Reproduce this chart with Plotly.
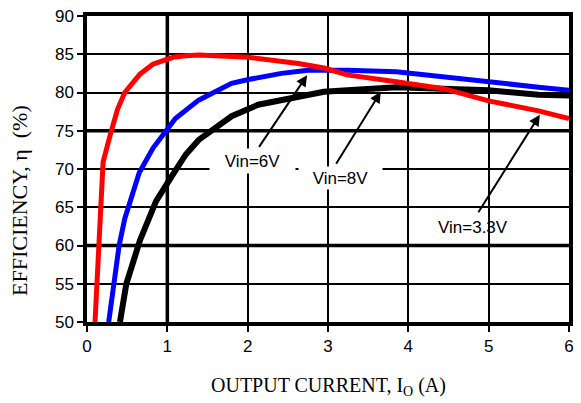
import plotly.graph_objects as go

# ---- data ----
x_33 = [0.10, 0.14, 0.18, 0.20, 0.29, 0.38, 0.47, 0.66, 0.82, 1.07, 1.23, 1.39, 2.01, 2.63, 2.95, 3.24, 3.85, 4.44, 5.00, 5.62, 6.00]
y_33 = [50.0, 58.0, 65.0, 70.9, 74.5, 77.8, 80.0, 82.4, 83.7, 84.6, 84.8, 84.9, 84.6, 83.8, 83.2, 82.3, 81.4, 80.5, 78.9, 77.6, 76.6]

x_6 = [0.27, 0.33, 0.40, 0.47, 0.55, 0.65, 0.82, 1.10, 1.39, 1.80, 2.01, 2.42, 2.75, 3.24, 3.85, 4.43, 5.00, 5.62, 6.00]
y_6 = [50.0, 55.1, 60.0, 63.5, 66.3, 69.5, 72.7, 76.6, 79.0, 81.2, 81.7, 82.5, 82.9, 82.9, 82.7, 82.0, 81.4, 80.7, 80.3]

x_8 = [0.41, 0.49, 0.66, 0.86, 1.07, 1.23, 1.39, 1.80, 2.13, 2.50, 2.75, 2.95, 3.24, 3.85, 4.43, 5.00, 5.62, 6.00]
y_8 = [50.0, 55.0, 60.7, 65.8, 69.3, 71.9, 73.8, 76.9, 78.4, 79.2, 79.7, 80.1, 80.3, 80.7, 80.5, 80.3, 79.7, 79.6]

x_ticks = [0, 1, 2, 3, 4, 5, 6]
y_ticks = [50, 55, 60, 65, 70, 75, 80, 85, 90]
thick_x = [1]
thick_y = [60, 75]

labels = ["Vin=3.3V", "Vin=6V", "Vin=8V"]

SANS = "Liberation Sans, Arial, sans-serif"
SERIF = "Liberation Serif, Times New Roman, serif"

fig = go.Figure()
fig.add_trace(go.Scatter(x=x_8, y=y_8, mode="lines", line=dict(color="black", width=6), name=labels[2]))
fig.add_trace(go.Scatter(x=x_6, y=y_6, mode="lines", line=dict(color="blue", width=5), name=labels[1]))
fig.add_trace(go.Scatter(x=x_33, y=y_33, mode="lines", line=dict(color="red", width=5), name=labels[0]))

for xv in thick_x:
    fig.add_shape(type="line", xref="x", yref="paper", x0=xv, x1=xv, y0=0, y1=1,
                  line=dict(color="black", width=3.5), layer="below")
for yv in thick_y:
    fig.add_shape(type="line", xref="paper", yref="y", x0=0, x1=1, y0=yv, y1=yv,
                  line=dict(color="black", width=3.5), layer="below")

# arrows
arrows = [
    (5.637, 77.1, 4.86, 64.16),   # 3.3V -> red
    (2.74, 82.25, 2.13, 72.7),    # 6V -> blue
    (3.657, 80.09, 3.09, 70.5),   # 8V -> black
]
for hx, hy, tx, ty in arrows:
    fig.add_annotation(x=hx, y=hy, ax=tx, ay=ty, xref="x", yref="y", axref="x", ayref="y",
                       text="", showarrow=True, arrowhead=2, arrowsize=1.1, arrowwidth=2,
                       arrowcolor="black")

# labels
fig.add_annotation(x=4.80, y=62.38, xref="x", yref="y", text=labels[0], showarrow=False,
                   font=dict(family=SANS, size=17, color="black"))
fig.add_annotation(x=2.064, y=71.09, xref="x", yref="y", text=labels[1], showarrow=False,
                   font=dict(family=SANS, size=17, color="black"), bgcolor="white",
                   width=85, height=24, borderpad=0)
fig.add_annotation(x=3.16, y=68.95, xref="x", yref="y", text=labels[2], showarrow=False,
                   font=dict(family=SANS, size=17, color="black"), bgcolor="white",
                   width=83, height=22, borderpad=0, yshift=-1)

# axis titles
fig.add_annotation(x=0.5, y=0, xref="paper", yref="paper", yanchor="middle", yshift=-64,
                   text="OUTPUT CURRENT, I<sub>O</sub> (A)", showarrow=False,
                   font=dict(family=SERIF, size=20, color="black"))
fig.add_annotation(x=0, y=0.5, xref="paper", yref="paper", xanchor="center", yanchor="middle",
                   xshift=-68, yshift=-32,
                   text="EFFICIENCY, η\u00a0\u00a0(%)", textangle=-90, showarrow=False,
                   font=dict(family=SERIF, size=22, color="black"))

axis_common = dict(showgrid=True, gridcolor="black", gridwidth=1.8, zeroline=False,
                   showline=True, linecolor="black", linewidth=3.5, mirror=True,
                   ticks="outside", ticklen=6, tickwidth=2, tickcolor="black",
                   tickfont=dict(family=SANS, size=17, color="black"))

fig.update_xaxes(range=[0, 6], tickvals=x_ticks, **axis_common)
fig.update_yaxes(range=[50, 90], tickvals=y_ticks, **axis_common)

fig.update_layout(width=581, height=403, margin=dict(l=87, r=7, t=14, b=81),
                  plot_bgcolor="white", paper_bgcolor="white", showlegend=False)

fig.write_html("out.html", config={"displayModeBar": False},
               post_script="document.body.style.margin='0';")
